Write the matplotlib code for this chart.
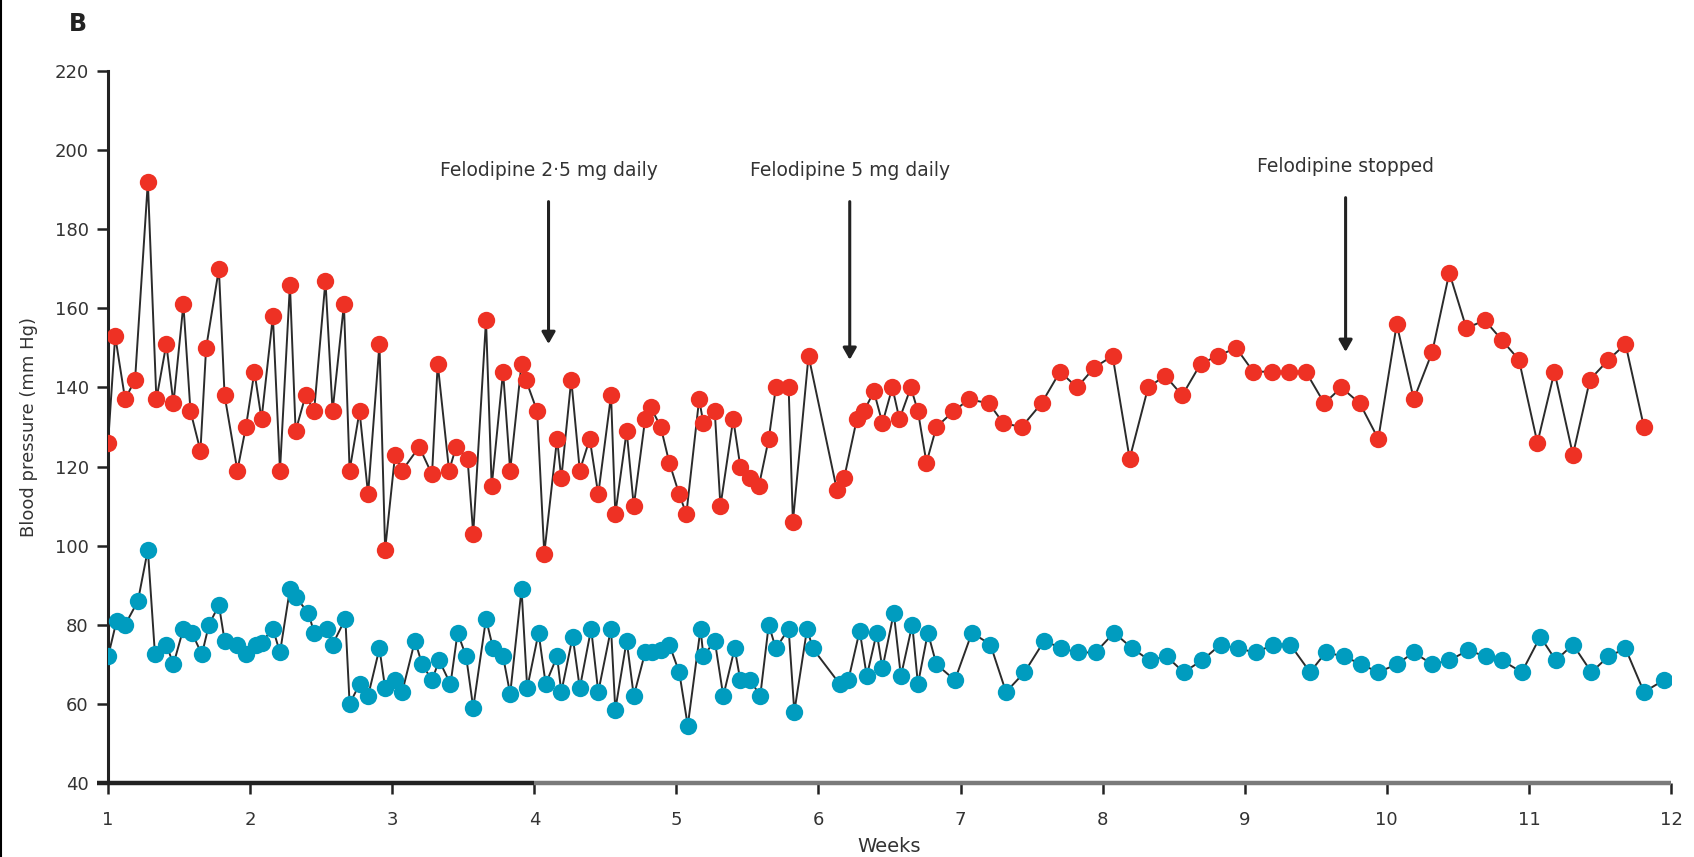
#!/usr/bin/env python3
# -*- coding: utf-8 -*-

"""Blood pressure over 12 weeks with felodipine changes (panel B)."""

import matplotlib
matplotlib.use("Agg")
import matplotlib.pyplot as plt
from matplotlib.lines import Line2D

RED = "#ee3124"
BLUE = "#009cbf"
LINE = "#2b2b2b"

# systolic (red) readings
SYS_WEEKS = [
    1.00, 1.05, 1.12, 1.19, 1.28, 1.34, 1.41, 1.46, 1.53, 1.58,
    1.65, 1.69, 1.78, 1.82, 1.91, 1.97, 2.03, 2.08, 2.16, 2.21,
    2.28, 2.32, 2.39, 2.45, 2.53, 2.58, 2.66, 2.70, 2.77, 2.83,
    2.91, 2.95, 3.02, 3.07, 3.19, 3.28, 3.32, 3.40, 3.45, 3.53,
    3.57, 3.66, 3.70, 3.78, 3.83, 3.91, 3.94, 4.02, 4.07, 4.16,
    4.19, 4.26, 4.32, 4.39, 4.45, 4.54, 4.57, 4.65, 4.70, 4.78,
    4.82, 4.89, 4.95, 5.02, 5.07, 5.16, 5.19, 5.27, 5.31, 5.40,
    5.45, 5.52, 5.58, 5.65, 5.70, 5.79, 5.82, 5.93, 6.13, 6.18,
    6.27, 6.32, 6.39, 6.45, 6.52, 6.57, 6.65, 6.70, 6.76, 6.83,
    6.95, 7.06, 7.20, 7.30, 7.43, 7.57, 7.70, 7.82, 7.94, 8.07,
    8.19, 8.32, 8.44, 8.56, 8.69, 8.81, 8.94, 9.06, 9.19, 9.31,
    9.43, 9.56, 9.68, 9.81, 9.94, 10.07, 10.19, 10.32, 10.44, 10.56,
    10.69, 10.81, 10.93, 11.06, 11.18, 11.31, 11.43, 11.56, 11.68, 11.81,
]
SYS_VALUES = [
    126, 153, 137, 142, 192, 137, 151, 136, 161, 134,
    124, 150, 170, 138, 119, 130, 144, 132, 158, 119,
    166, 129, 138, 134, 167, 134, 161, 119, 134, 113,
    151, 99, 123, 119, 125, 118, 146, 119, 125, 122,
    103, 157, 115, 144, 119, 146, 142, 134, 98, 127,
    117, 142, 119, 127, 113, 138, 108, 129, 110, 132,
    135, 130, 121, 113, 108, 137, 131, 134, 110, 132,
    120, 117, 115, 127, 140, 140, 106, 148, 114, 117,
    132, 134, 139, 131, 140, 132, 140, 134, 121, 130,
    134, 137, 136, 131, 130, 136, 144, 140, 145, 148,
    122, 140, 143, 138, 146, 148, 150, 144, 144, 144,
    144, 136, 140, 136, 127, 156, 137, 149, 169, 155,
    157, 152, 147, 126, 144, 123, 142, 147, 151, 130,
]

# diastolic (blue) readings
DIA_WEEKS = [
    1.00, 1.06, 1.12, 1.21, 1.28, 1.33, 1.41, 1.46, 1.53, 1.59,
    1.66, 1.71, 1.78, 1.82, 1.91, 1.97, 2.04, 2.08, 2.16, 2.21,
    2.28, 2.32, 2.41, 2.45, 2.54, 2.58, 2.67, 2.70, 2.77, 2.83,
    2.91, 2.95, 3.02, 3.07, 3.16, 3.21, 3.28, 3.33, 3.41, 3.46,
    3.52, 3.57, 3.66, 3.71, 3.78, 3.83, 3.91, 3.95, 4.03, 4.08,
    4.16, 4.19, 4.27, 4.32, 4.40, 4.45, 4.54, 4.57, 4.65, 4.70,
    4.78, 4.83, 4.89, 4.95, 5.02, 5.08, 5.17, 5.19, 5.27, 5.33,
    5.41, 5.45, 5.52, 5.59, 5.65, 5.70, 5.79, 5.83, 5.92, 5.96,
    6.15, 6.21, 6.29, 6.34, 6.41, 6.45, 6.53, 6.58, 6.66, 6.70,
    6.77, 6.83, 6.96, 7.08, 7.21, 7.32, 7.45, 7.59, 7.71, 7.83,
    7.95, 8.08, 8.21, 8.33, 8.45, 8.57, 8.70, 8.83, 8.95, 9.08,
    9.20, 9.32, 9.46, 9.57, 9.70, 9.82, 9.94, 10.07, 10.19, 10.32,
    10.44, 10.57, 10.70, 10.81, 10.95, 11.08, 11.19, 11.31, 11.44, 11.56,
    11.68, 11.81, 11.95,
]
DIA_VALUES = [
    72, 81, 80, 86, 99, 72.5, 75, 70, 79, 78,
    72.5, 80, 85, 76, 75, 72.5, 75, 75.5, 79, 73,
    89, 87, 83, 78, 79, 75, 81.5, 60, 65, 62,
    74, 64, 66, 63, 76, 70, 66, 71, 65, 78,
    72, 59, 81.5, 74, 72, 62.5, 89, 64, 78, 65,
    72, 63, 77, 64, 79, 63, 79, 58.5, 76, 62,
    73, 73, 73.5, 75, 68, 54.5, 79, 72, 76, 62,
    74, 66, 66, 62, 80, 74, 79, 58, 79, 74,
    65, 66, 78.5, 67, 78, 69, 83, 67, 80, 65,
    78, 70, 66, 78, 75, 63, 68, 76, 74, 73,
    73, 78, 74, 71, 72, 68, 71, 75, 74, 73,
    75, 75, 68, 73, 72, 70, 68, 70, 73, 70,
    71, 73.5, 72, 71, 68, 77, 71, 75, 68, 72,
    74, 63, 66,
]

# (text, week, arrow tip, arrow top, text y)
NOTES = [
    ("Felodipine 2\u00b75 mg daily", 4.10, 151, 187, 192.5),
    ("Felodipine 5 mg daily", 6.22, 147, 187, 192.5),
    ("Felodipine stopped", 9.71, 149, 188, 193.5),
]

Y_TICKS = list(range(40, 221, 20))
X_TICKS = list(range(1, 13))


def main():
    """Main function."""
    plt.rcParams["font.family"] = ["DejaVu Sans"]
    fig = plt.figure(figsize=(16.94, 8.57), dpi=100)
    ax = fig.add_axes([0.0638, 0.0864, 0.9226, 0.8306])

    ax.plot(SYS_WEEKS, SYS_VALUES, "-", color=LINE, lw=1.4, zorder=2)
    ax.plot(SYS_WEEKS, SYS_VALUES, "o", color=RED, ms=12.5, mec="none", zorder=3)
    ax.plot(DIA_WEEKS, DIA_VALUES, "-", color=LINE, lw=1.4, zorder=2)
    ax.plot(DIA_WEEKS, DIA_VALUES, "o", color=BLUE, ms=12.5, mec="none", zorder=3)

    for text, week, tip, top, ty in NOTES:
        ax.annotate("", xy=(week, tip), xytext=(week, top),
                    arrowprops=dict(arrowstyle="-|>,head_length=0.7,head_width=0.4",
                                    color="#222222", lw=2.2, shrinkA=0, shrinkB=0))
        ax.text(week, ty, text, ha="center", va="bottom", fontsize=13.5,
                color="#333333")

    ax.set_xlim(1, 12)
    ax.set_ylim(40, 220)
    ax.set_xticks(X_TICKS)
    ax.set_yticks(Y_TICKS)
    ax.tick_params(axis="both", direction="out", length=8, width=1.8,
                   color="#222222", labelsize=13, labelcolor="#333333")
    ax.tick_params(axis="x", pad=12)
    ax.tick_params(axis="y", pad=6)

    for side in ("top", "right", "bottom"):
        ax.spines[side].set_visible(False)
    ax.spines["left"].set_linewidth(2.2)
    ax.spines["left"].set_color("#222222")

    # bottom axis line: dark up to week 4, grey afterwards
    ax.plot([0.92, 4.0], [40, 40], color="#222222", lw=3.2,
            clip_on=False, solid_capstyle="butt", zorder=4)
    ax.plot([4.0, 12.0], [40, 40], color="#7a7a7a", lw=3.2,
            clip_on=False, solid_capstyle="butt", zorder=4)

    ax.set_ylabel("Blood pressure (mm Hg)", fontsize=13, color="#333333",
                  labelpad=12)
    ax.set_xlabel("Weeks", fontsize=14, color="#333333", labelpad=6)

    fig.text(0.046, 0.972, "B", fontsize=17, fontweight="bold",
             color="#222222", ha="center", va="center")
    fig.add_artist(Line2D([0.0008, 0.0008], [0, 1], color="black", lw=1.5,
                          transform=fig.transFigure))

    fig.savefig("out.png", dpi=100)


if __name__ == "__main__":
    main()
